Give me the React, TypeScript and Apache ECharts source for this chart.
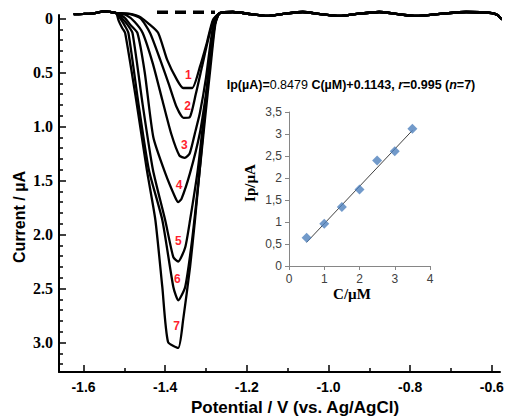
import React, { useEffect, useRef } from "react";
import * as echarts from "echarts";

// ---- Main voltammogram data (potential V, current µA) ----
const baseLeft: number[][] = [
  [-1.624, -0.04], [-1.6, -0.042], [-1.58, -0.045], [-1.565, -0.055],
  [-1.55, -0.065], [-1.535, -0.06], [-1.52, -0.05],
];
const baseRight: number[][] = [
  [-1.266, -0.05], [-1.234, -0.06], [-1.19, -0.04], [-1.151, -0.023],
  [-1.105, -0.045], [-1.063, -0.06], [-1.02, -0.04], [-0.973, -0.023],
  [-0.925, -0.045], [-0.876, -0.06], [-0.83, -0.04], [-0.785, -0.023],
  [-0.72, -0.045], [-0.663, -0.06], [-0.6, -0.05], [-0.585, -0.03],
  [-0.576, 0.005], [-0.56, -0.03], [-0.524, -0.097],
];
const curve1: number[][] = [
  [-1.49, -0.045], [-1.465, -0.02], [-1.44, 0.05], [-1.417, 0.134], [-1.395, 0.384],
  [-1.371, 0.569], [-1.356, 0.644], [-1.334, 0.644], [-1.315, 0.449], [-1.298, 0.227],
  [-1.283, 0.014],
];
const curve2: number[][] = [
  [-1.485, -0.04], [-1.46, 0.0], [-1.437, 0.134], [-1.412, 0.384], [-1.39, 0.62],
  [-1.372, 0.82], [-1.355, 0.92], [-1.34, 0.915], [-1.325, 0.7], [-1.31, 0.45],
  [-1.295, 0.2], [-1.281, 0.01],
];
const curve3: number[][] = [
  [-1.495, -0.03], [-1.475, 0.03], [-1.455, 0.134], [-1.43, 0.42], [-1.407, 0.755],
  [-1.385, 1.07], [-1.365, 1.27], [-1.352, 1.29], [-1.34, 1.25], [-1.327, 1.06],
  [-1.315, 0.876], [-1.3, 0.55], [-1.288, 0.2], [-1.278, 0.0],
];
const curve4: number[][] = [
  [-1.5, -0.01], [-1.485, 0.06], [-1.468, 0.134], [-1.45, 0.5], [-1.429, 1.1],
  [-1.4, 1.43], [-1.375, 1.66], [-1.368, 1.7], [-1.36, 1.67], [-1.339, 1.43],
  [-1.315, 1.06], [-1.3, 0.7], [-1.288, 0.35], [-1.278, 0.05],
];
const curve5: number[][] = [
  [-1.505, 0.0], [-1.492, 0.06], [-1.48, 0.134], [-1.455, 0.8], [-1.43, 1.4],
  [-1.4, 1.866], [-1.38, 2.21], [-1.368, 2.25], [-1.351, 2.12], [-1.339, 1.866],
  [-1.32, 1.4], [-1.305, 0.9], [-1.29, 0.4], [-1.279, 0.05],
];
const curve6: number[][] = [
  [-1.51, 0.0], [-1.5, 0.06], [-1.49, 0.134], [-1.465, 0.8], [-1.44, 1.4],
  [-1.407, 1.866], [-1.38, 2.486], [-1.368, 2.61], [-1.351, 2.486], [-1.334, 2.05],
  [-1.318, 1.5], [-1.303, 0.95], [-1.289, 0.45], [-1.277, 0.05],
];
const curve7: number[][] = [
  [-1.514, 0.02], [-1.505, 0.09], [-1.498, 0.134], [-1.471, 0.755], [-1.445, 1.4],
  [-1.424, 1.866], [-1.407, 2.486], [-1.393, 2.995], [-1.368, 3.05], [-1.356, 2.79],
  [-1.339, 2.3], [-1.327, 1.866], [-1.313, 1.3], [-1.3, 0.755], [-1.286, 0.25],
  [-1.275, 0.0],
];
const curves = [curve1, curve2, curve3, curve4, curve5, curve6, curve7];
const dashedBaseline: number[][] = [[-1.42, -0.058], [-1.278, -0.058]];

// peak labels
const peakNames = ["1", "2", "3", "4", "5", "6", "7"];
const peakPotential = [-1.343, -1.345, -1.353, -1.366, -1.368, -1.37, -1.372];
const peakCurrent = [0.644, 0.92, 1.29, 1.7, 2.25, 2.61, 3.05];
const peakLabelLift = [13, 12, 13, 17, 20, 21, 22];

// axis ticks
const xMajor = [-1.6, -1.4, -1.2, -1.0, -0.8, -0.6];
const xMinor = [-1.5, -1.3, -1.1, -0.9, -0.7];
const yMajor = [0, 0.5, 1.0, 1.5, 2.0, 2.5, 3.0];
const yMinor = [
  0.1, 0.2, 0.3, 0.4, 0.6, 0.7, 0.8, 0.9, 1.1, 1.2, 1.3, 1.4, 1.6, 1.7, 1.8, 1.9,
  2.1, 2.2, 2.3, 2.4, 2.6, 2.7, 2.8, 2.9, 3.1, 3.2,
];

// ---- Inset calibration data ----
const concentration = [0.5, 1.0, 1.5, 2.0, 2.5, 3.0, 3.5];
const peakIp = [0.64, 0.96, 1.34, 1.74, 2.4, 2.61, 3.12];
const fitSlope = 0.8479;
const fitIntercept = 0.1143;
const fitRange = [0.5, 3.5];

export default function App() {
  const ref = useRef<HTMLDivElement>(null);

  useEffect(() => {
    if (!ref.current) return;
    const chart = echarts.init(ref.current, null, { renderer: "svg" });

    const X_MIN = -1.66;
    const X_MAX = -0.58;
    const Y_MIN = -0.032;
    const Y_MAX = 3.273;

    const curveSeries = curves.map((c) => ({
      type: "line",
      xAxisIndex: 0,
      yAxisIndex: 0,
      data: [...baseLeft, ...c, ...baseRight],
      showSymbol: false,
      symbol: "none",
      smooth: 0.2,
      clip: false,
      lineStyle: { color: "#000", width: 2.3 },
      z: 3,
    }));

    const option: any = {
      animation: false,
      backgroundColor: "#fff",
      grid: [
        { left: 59, top: 15, right: 24, bottom: 46 },
        { left: 289, top: 112, width: 141, height: 154 },
      ],
      xAxis: [
        {
          gridIndex: 0,
          type: "value",
          min: X_MIN,
          max: X_MAX,
          position: "bottom",
          axisLine: { show: true, onZero: false, lineStyle: { color: "#000", width: 2 } },
          axisTick: {
            show: true,
            inside: true,
            length: 7,
            customValues: xMajor,
            lineStyle: { color: "#000", width: 1.5 },
          },
          axisLabel: {
            customValues: xMajor,
            formatter: (v: number) => v.toFixed(1),
            color: "#000",
            fontFamily: "Liberation Sans",
            fontWeight: "bold",
            fontSize: 14,
            margin: 8,
          },
          splitLine: { show: false },
        },
        {
          gridIndex: 0,
          type: "value",
          min: X_MIN,
          max: X_MAX,
          position: "bottom",
          axisLine: { show: false, onZero: false },
          axisTick: {
            show: true,
            inside: true,
            length: 4,
            customValues: xMinor,
            lineStyle: { color: "#000", width: 1.5 },
          },
          axisLabel: { show: false },
          splitLine: { show: false },
        },
        {
          gridIndex: 1,
          type: "value",
          min: 0,
          max: 4,
          interval: 1,
          axisLine: { show: true, onZero: false, lineStyle: { color: "#868686", width: 1 } },
          axisTick: { show: true, length: 4, lineStyle: { color: "#868686" } },
          axisLabel: {
            color: "#404040",
            fontFamily: "Liberation Sans",
            fontSize: 12,
            margin: 7,
          },
          splitLine: { show: false },
        },
      ],
      yAxis: [
        {
          gridIndex: 0,
          type: "value",
          inverse: true,
          min: Y_MIN,
          max: Y_MAX,
          position: "left",
          axisLine: { show: true, onZero: false, lineStyle: { color: "#000", width: 2 } },
          axisTick: {
            show: true,
            inside: true,
            length: 7,
            customValues: yMajor,
            lineStyle: { color: "#000", width: 1.5 },
          },
          axisLabel: {
            customValues: yMajor,
            formatter: (v: number) => (v === 0 ? "0" : v.toFixed(1)),
            color: "#000",
            fontFamily: "Liberation Serif",
            fontWeight: "bold",
            fontSize: 16,
            margin: 6,
          },
          splitLine: { show: false },
        },
        {
          gridIndex: 0,
          type: "value",
          inverse: true,
          min: Y_MIN,
          max: Y_MAX,
          position: "left",
          axisLine: { show: false, onZero: false },
          axisTick: {
            show: true,
            inside: true,
            length: 4,
            customValues: yMinor,
            lineStyle: { color: "#000", width: 1.5 },
          },
          axisLabel: { show: false },
          splitLine: { show: false },
        },
        {
          gridIndex: 1,
          type: "value",
          min: 0,
          max: 3.5,
          interval: 0.5,
          axisLine: { show: true, onZero: false, lineStyle: { color: "#868686", width: 1 } },
          axisTick: { show: true, length: 4, lineStyle: { color: "#868686" } },
          axisLabel: {
            color: "#404040",
            fontFamily: "Liberation Sans",
            fontSize: 12,
            margin: 7,
            formatter: (v: number) => String(v).replace(".", ","),
          },
          splitLine: { show: false },
        },
      ],
      series: [
        ...curveSeries,
        {
          type: "line",
          xAxisIndex: 0,
          yAxisIndex: 0,
          data: dashedBaseline,
          showSymbol: false,
          symbol: "none",
          clip: false,
          lineStyle: { color: "#000", width: 3.5, type: [11, 7] },
          z: 4,
        },
        {
          type: "scatter",
          xAxisIndex: 0,
          yAxisIndex: 0,
          symbol: "circle",
          symbolSize: 2,
          itemStyle: { color: "rgba(255,255,255,0)" },
          clip: false,
          data: peakNames.map((n, i) => ({
            name: n,
            value: [peakPotential[i], peakCurrent[i]],
            label: { offset: [0, -peakLabelLift[i]] },
          })),
          label: {
            show: true,
            position: "inside",
            formatter: (p: any) => p.name,
            color: "#ff1f2f",
            opacity: 1,
            textBorderWidth: 0,
            fontFamily: "Liberation Sans",
            fontWeight: "bold",
            fontSize: 12,
          },
          z: 5,
        },
        {
          type: "line",
          xAxisIndex: 2,
          yAxisIndex: 2,
          data: fitRange.map((c) => [c, fitSlope * c + fitIntercept]),
          showSymbol: false,
          symbol: "none",
          lineStyle: { color: "#404040", width: 1 },
          z: 2,
        },
        {
          type: "scatter",
          xAxisIndex: 2,
          yAxisIndex: 2,
          symbol: "diamond",
          symbolSize: 10,
          itemStyle: { color: "#4F81BD" },
          data: concentration.map((c, i) => [c, peakIp[i]]),
          z: 3,
        },
      ],
      graphic: [
        {
          type: "text",
          x: 19,
          y: 217,
          rotation: Math.PI / 2,
          style: {
            text: "Current / µA",
            font: "bold 16px 'Liberation Sans'",
            fill: "#000",
            align: "center",
            verticalAlign: "middle",
          },
        },
        {
          type: "text",
          x: 295,
          y: 407,
          style: {
            text: "Potential / V (vs. Ag/AgCl)",
            font: "bold 17px 'Liberation Sans'",
            fill: "#000",
            align: "center",
            verticalAlign: "middle",
          },
        },
        {
          type: "text",
          x: 351,
          y: 85,
          style: {
            text:
              "{b|Ip(µA)=}{n|0.8479}{b| C(µM)+0.1143, }{i|r}{b|=0.995 (}{i|n}{b|=7)}",
            align: "center",
            verticalAlign: "middle",
            rich: {
              b: { font: "bold 12.5px 'Liberation Sans'", fill: "#000" },
              n: { font: "12.5px 'Liberation Sans'", fill: "#000" },
              i: { font: "italic bold 12.5px 'Liberation Sans'", fill: "#000" },
            },
          },
        },
        {
          type: "text",
          x: 250,
          y: 183,
          rotation: Math.PI / 2,
          style: {
            text: "Ip/µA",
            font: "bold 15px 'Liberation Serif'",
            fill: "#000",
            align: "center",
            verticalAlign: "middle",
          },
        },
        {
          type: "text",
          x: 352,
          y: 294,
          style: {
            text: "C/µM",
            font: "bold 15px 'Liberation Serif'",
            fill: "#000",
            align: "center",
            verticalAlign: "middle",
          },
        },
      ],
    };

    chart.setOption(option);
    return () => chart.dispose();
  }, []);

  return (
    <div
      ref={ref}
      style={{ position: "absolute", left: 0, top: 0, width: 524, height: 418, background: "#fff" }}
    />
  );
}
